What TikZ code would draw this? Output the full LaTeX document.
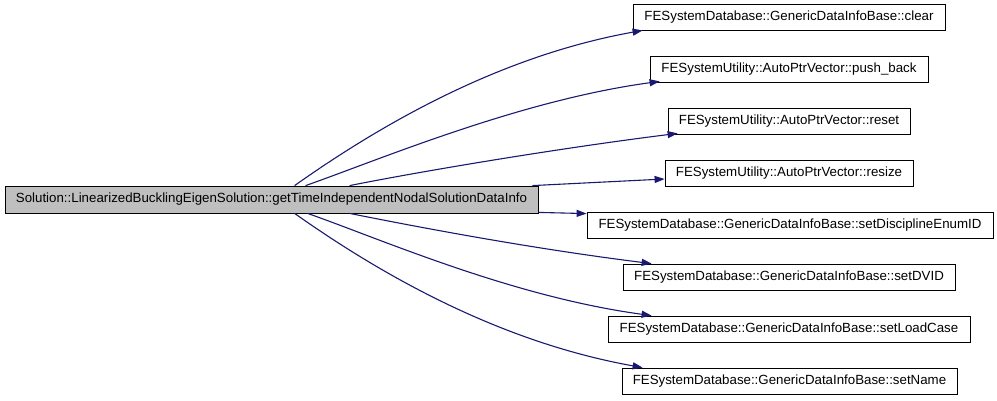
\documentclass[tikz,border=0pt]{standalone}
\usepackage{fontspec}
\setmainfont{Liberation Sans}
\usetikzlibrary{arrows.meta}
\definecolor{edgeblue}{HTML}{191970}
\definecolor{mainfill}{HTML}{BFBFBF}
\begin{document}
\begin{tikzpicture}[x=1pt,y=-1pt,
  fnbox/.style={draw=black,line width=0.8pt,fill=white,inner sep=0pt,
    minimum height=26pt,font=\fontsize{13.3}{15}\selectfont,anchor=center},
  mainbox/.style={fnbox,fill=mainfill,minimum height=27pt},
  call/.style={draw=edgeblue,line width=1.1pt,-{Triangle[length=10pt,width=7pt]}}]
\useasboundingbox (0,0) rectangle (997,401);
\node[mainbox,minimum width=533pt] (main) at (271.5,199.5) {Solution::LinearizedBucklingEigenSolution::getTimeIndependentNodalSolutionDataInfo};
\node[fnbox,minimum width=312pt] (clear) at (789,17) {FESystemDatabase::GenericDataInfoBase::clear};
\node[fnbox,minimum width=278pt] (push) at (789,69) {FESystemUtility::AutoPtrVector::push\_back};
\node[fnbox,minimum width=242pt] (reset) at (789,121) {FESystemUtility::AutoPtrVector::reset};
\node[fnbox,minimum width=248pt] (resize) at (789,173) {FESystemUtility::AutoPtrVector::resize};
\node[fnbox,minimum width=406pt] (disc) at (790,225) {FESystemDatabase::GenericDataInfoBase::setDisciplineEnumID};
\node[fnbox,minimum width=332pt] (dvid) at (789,277) {FESystemDatabase::GenericDataInfoBase::setDVID};
\node[fnbox,minimum width=362pt] (load) at (789,329) {FESystemDatabase::GenericDataInfoBase::setLoadCase};
\node[fnbox,minimum width=335pt] (name) at (789.5,381) {FESystemDatabase::GenericDataInfoBase::setName};
\draw[call] ([xshift=290pt]main.north west) .. controls +(106,-75) and +(-128,23) .. ([xshift=10pt]clear.south west);
\draw[call] ([xshift=301pt]main.north west) .. controls +(74,-26) and +(-140,19) .. ([xshift=10pt,yshift=1pt]push.south west);
\draw[call] ([xshift=345pt]main.north west) .. controls +(70,-14) and +(-120,15) .. ([xshift=10pt,yshift=1pt]reset.south west);
\draw[call] ([xshift=-6pt]main.north east) -- ([yshift=-6pt]resize.west);
\draw[call] ([yshift=1pt]main.south east) -- ([yshift=-2pt]disc.north west);
\draw[call] ([xshift=345pt]main.south west) .. controls +(70,14) and +(-120,-15) .. ([xshift=29pt]dvid.north west);
\draw[call] ([xshift=303pt]main.south west) .. controls +(74,26) and +(-140,-19) .. ([xshift=44pt]load.north west);
\draw[call] ([xshift=290pt]main.south west) .. controls +(106,75) and +(-128,-23) .. ([xshift=21pt]name.north west);
\end{tikzpicture}
\end{document}
